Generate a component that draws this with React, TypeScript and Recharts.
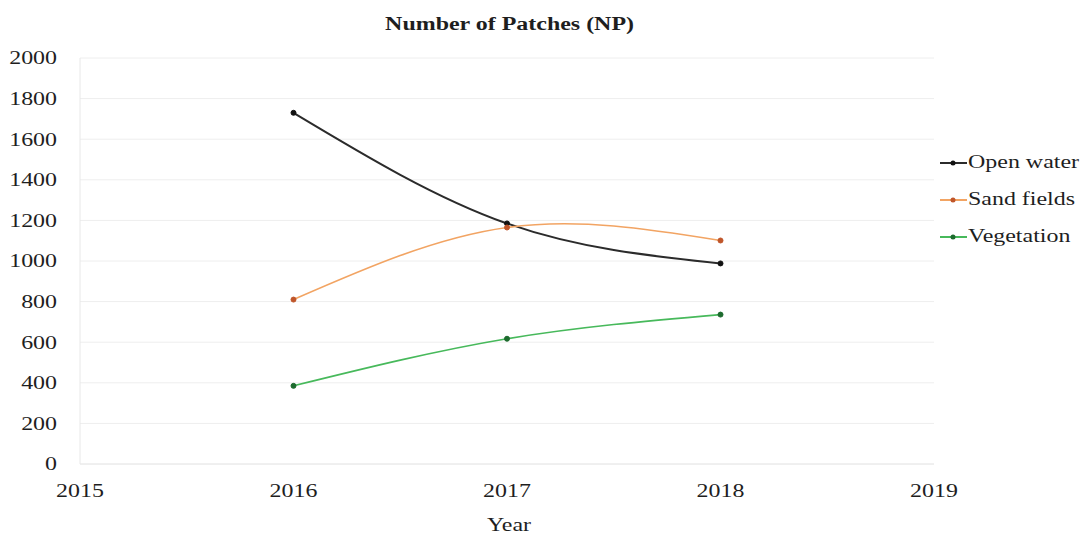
import React from 'react';
import { LineChart, Line, XAxis, YAxis, CartesianGrid, Legend } from 'recharts';

const years = [2016, 2017, 2018];
const openWater = [1730, 1185, 988];
const sandFields = [810, 1165, 1101];
const vegetation = [385, 617, 736];
const xTicks = [2015, 2016, 2017, 2018, 2019];
const yTicks = [0, 200, 400, 600, 800, 1000, 1200, 1400, 1600, 1800, 2000];

const seriesKeys = ['openWater', 'sandFields', 'vegetation'];
const seriesNames = ['Open water', 'Sand fields', 'Vegetation'];
const lineColors = ['#2b2b2b', '#f2a463', '#47b95b'];
const dotColors = ['#111111', '#c0562a', '#1d6b2e'];
const lineWidths = [2, 1.6, 1.6];

const data = years.map((year, i) => ({
  year,
  openWater: openWater[i],
  sandFields: sandFields[i],
  vegetation: vegetation[i],
}));

const FONT = '"Liberation Serif", "Times New Roman", serif';
const SX = 1.33;
const TEXT = '#1e1e1e';

const YTick = (props: any) => {
  const { x, y, payload } = props;
  return (
    <text
      transform={`translate(${x},${y}) scale(${SX},1)`}
      textAnchor="end"
      dy="0.35em"
      fontSize={18}
      fontFamily={FONT}
      fill={TEXT}
    >
      {payload.value}
    </text>
  );
};

const XTick = (props: any) => {
  const { x, y, payload } = props;
  return (
    <text
      transform={`translate(${x},${y}) scale(${SX},1)`}
      textAnchor="middle"
      dy="0.71em"
      fontSize={18}
      fontFamily={FONT}
      fill={TEXT}
    >
      {payload.value}
    </text>
  );
};

const YearLabel = (props: any) => {
  const vb = props.viewBox || { x: 80, y: 464, width: 853, height: 75 };
  const cx = vb.x + vb.width / 2 + 2;
  return (
    <text
      transform={`translate(${cx},531) scale(${SX},1)`}
      textAnchor="middle"
      fontSize={18}
      fontFamily={FONT}
      fill={TEXT}
    >
      Year
    </text>
  );
};

const LegendContent = () => (
  <div style={{ fontFamily: FONT, fontSize: 18, color: TEXT }}>
    {seriesNames.map((name, i) => (
      <div key={name} style={{ display: 'flex', alignItems: 'center', height: 37 }}>
        <svg width={28} height={10} style={{ flex: 'none' }}>
          <line x1={0} y1={5} x2={27} y2={5} stroke={lineColors[i]} strokeWidth={2} />
          <circle cx={13} cy={5} r={2.5} fill={dotColors[i]} />
        </svg>
        <span
          style={{
            display: 'inline-block',
            whiteSpace: 'nowrap',
            transform: `scale(${SX},1)`,
            transformOrigin: 'left center',
          }}
        >
          {name}
        </span>
      </div>
    ))}
  </div>
);

export default function App() {
  return (
    <div style={{ position: 'absolute', left: 0, top: 0, width: 1087, height: 539, background: '#fff' }}>
      <div
        style={{
          position: 'absolute',
          left: 0,
          top: 15,
          width: 1020,
          textAlign: 'center',
          fontFamily: FONT,
          fontWeight: 'bold',
          fontSize: 18,
          lineHeight: '18px',
          color: TEXT,
          zIndex: 2,
        }}
      >
        <span style={{ display: 'inline-block', transform: `scale(${SX},1)` }}>
          Number of Patches (NP)
        </span>
      </div>
      <LineChart
        width={1087}
        height={539}
        data={data}
        margin={{ top: 58, right: 6, bottom: 0, left: 0 }}
      >
        <CartesianGrid vertical={false} stroke="#eeeeee" />
        <XAxis
          dataKey="year"
          type="number"
          domain={[2015, 2019]}
          ticks={xTicks}
          height={75}
          tickLine={false}
          tickMargin={14}
          axisLine={{ stroke: '#e8e8e8' }}
          tick={<XTick />}
          label={{ content: <YearLabel /> }}
        />
        <YAxis
          type="number"
          domain={[0, 2000]}
          ticks={yTicks}
          width={80}
          tickLine={false}
          tickMargin={17}
          axisLine={{ stroke: '#e8e8e8' }}
          tick={<YTick />}
        />
        <Legend
          layout="vertical"
          align="right"
          verticalAlign="top"
          content={<LegendContent />}
          wrapperStyle={{ position: 'absolute', left: 940, top: 144, width: 147 }}
        />
        {seriesKeys.map((k, i) => (
          <Line
            key={k}
            dataKey={k}
            name={seriesNames[i]}
            type="natural"
            stroke={lineColors[i]}
            strokeWidth={lineWidths[i]}
            dot={{ r: 2.5, fill: dotColors[i], stroke: dotColors[i], strokeWidth: 1 }}
            activeDot={false}
            isAnimationActive={false}
          />
        ))}
      </LineChart>
    </div>
  );
}
